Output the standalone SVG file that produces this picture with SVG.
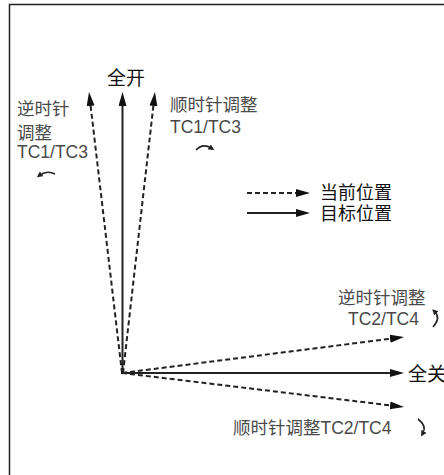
<svg xmlns="http://www.w3.org/2000/svg" width="444" height="475" viewBox="0 0 444 475">
<defs>
<style>
.t{font-family:"Liberation Sans","Noto Sans CJK SC",sans-serif;font-size:17.5px;fill:#4a4a4a}
.k{font-family:"Liberation Sans","Noto Sans CJK SC",sans-serif;font-size:19px;fill:#111}
.s{stroke:#222;stroke-width:2;fill:none}
.d{stroke:#222;stroke-width:2;fill:none;stroke-dasharray:5,3}
.c{stroke:#222;stroke-width:1.6;fill:none}
</style>
<marker id="ah" markerUnits="userSpaceOnUse" markerWidth="16" markerHeight="10" refX="2" refY="4" orient="auto">
<path d="M0,0 L14,4 L0,8 z" fill="#111"/>
</marker>
<marker id="sh" markerUnits="userSpaceOnUse" markerWidth="8" markerHeight="8" refX="2" refY="3" orient="auto">
<path d="M0,0 L6,3 L0,6 z" fill="#222"/>
</marker>
</defs>
<rect x="9.5" y="4.5" width="500" height="500" fill="#fff" stroke="#222" stroke-width="1.5"/>
<g id="connectors">
<line class="d" x1="122" y1="373" x2="90.4" y2="103.9" marker-end="url(#ah)"/>
<line class="s" x1="122.5" y1="373" x2="122.5" y2="104" marker-end="url(#ah)"/>
<line class="d" x1="123" y1="373" x2="153.6" y2="103.9" marker-end="url(#ah)"/>
<line class="d" x1="122" y1="373" x2="392.1" y2="338.5" marker-end="url(#ah)"/>
<line class="s" x1="121" y1="373" x2="392" y2="373" marker-end="url(#ah)"/>
<line class="d" x1="122" y1="373" x2="392.1" y2="405.6" marker-end="url(#ah)"/>
<line class="d" x1="247" y1="193" x2="298" y2="193" marker-end="url(#ah)"/>
<line class="s" x1="247" y1="213" x2="298" y2="213" marker-end="url(#ah)"/>
<path class="c" d="M55,174 Q47,170 40,175" marker-end="url(#sh)"/>
<path class="c" d="M196,150 Q203,143 211,148" marker-end="url(#sh)"/>
<path class="c" d="M433,327 Q441,318 435,312" marker-end="url(#sh)"/>
<path class="c" d="M418,419 Q427,426 423,433" marker-end="url(#sh)"/>
</g>
<g id="full-open"><text class="k" x="107" y="85">全开</text></g>
<g id="ccw-tc1"><text class="t" x="17" y="115">逆时针</text><text class="t" x="17" y="139">调整</text><text class="t" x="17" y="158">TC1/TC3</text></g>
<g id="cw-tc1"><text class="t" x="170" y="111">顺时针调整</text><text class="t" x="170" y="133">TC1/TC3</text></g>
<g id="legend"><text class="k" x="320" y="199" style="font-size:18px">当前位置</text><text class="k" x="320" y="220" style="font-size:18px">目标位置</text></g>
<g id="ccw-tc2"><text class="t" x="338" y="304">逆时针调整</text><text class="t" x="348" y="325">TC2/TC4</text></g>
<g id="full-close"><text class="k" x="408" y="381">全关</text></g>
<g id="cw-tc2"><text class="t" x="233" y="434">顺时针调整TC2/TC4</text></g>
</svg>
